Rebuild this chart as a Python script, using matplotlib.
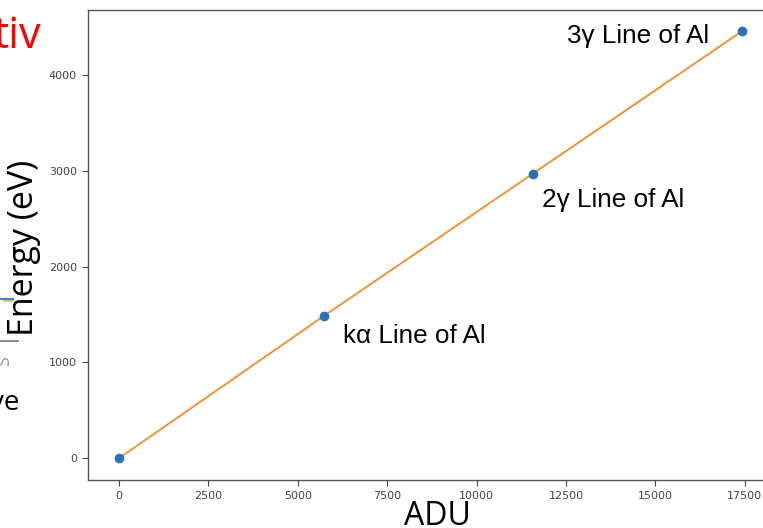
import matplotlib
matplotlib.use("Agg")
import matplotlib.pyplot as plt
from matplotlib.lines import Line2D

# Calibration points: detector reading (ADU) vs photon energy (eV)
adu = [0, 5733, 11577, 17422]
energy = [0, 1487, 2973, 4460]
line_labels = ["", "k\u03b1 Line of Al", "2\u03b3 Line of Al", "3\u03b3 Line of Al"]
x_ticks = [0, 2500, 5000, 7500, 10000, 12500, 15000, 17500]
y_ticks = [0, 1000, 2000, 3000, 4000]

W, H = 763, 528
fig = plt.figure(figsize=(W / 100, H / 100), dpi=100)
fig.patch.set_facecolor("white")


def px(x, y):
    """Pixel position (from top-left) to figure fraction."""
    return x / W, 1 - y / H


# Axes panel; its right edge runs past the slide crop
ax = fig.add_axes([88 / W, (H - 479.5) / H, 685 / W, 469.5 / H])
ax.plot(adu, energy, color="#f68a2a", lw=1.3, zorder=2)
ax.plot(adu, energy, "o", color="#2a72b5", ms=6, zorder=3)
ax.set_xticks(x_ticks)
ax.set_yticks(y_ticks)
ax.tick_params(labelsize=8, labelcolor="#444444", color="#444444", length=4.5)
for s in ax.spines.values():
    s.set_color("#555555")
    s.set_linewidth(1.0)

# Slide annotations next to each calibration line
label_pos = [None, (343, 343), (542, 207), (567, 43)]
for lab, pos in zip(line_labels, label_pos):
    if pos is None:
        continue
    fx, fy = px(*pos)
    fig.text(fx, fy, lab, family="Liberation Sans", fontsize=18.8,
             color="black", ha="left", va="baseline")

# Large slide axis captions
fx, fy = px(24, 248)
fig.text(fx, fy, "Energy (eV)", family="Open Sans", fontsize=24.5,
         rotation=90, ha="center", va="center", color="black")
fx, fy = px(437, 525)
fig.text(fx, fy, "ADU", family="Open Sans", fontsize=23,
         ha="center", va="baseline", color="black")

# Neighbouring slide content at the left edge
fx, fy = px(41, 48)
fig.text(fx, fy, "tiv", family="Open Sans", fontsize=31, color="#ff0000",
         ha="right", va="baseline")
fx, fy = px(19, 410)
fig.text(fx, fy, "ve", family="Open Sans", fontsize=20, color="black",
         ha="right", va="baseline")
fig.add_artist(Line2D([0, 13 / W], [1 - 299 / H] * 2, color="#4a7fc0", lw=1.6))
fig.add_artist(Line2D([4 / W, 13 / W], [1 - 301 / H] * 2, color="#c8c860", lw=1.2))
fig.add_artist(Line2D([0, 18 / W], [1 - 341 / H] * 2, color="#777777", lw=1.2))
fx, fy = px(4, 361)
fig.text(fx, fy, "S", family="Open Sans", fontsize=13, color="#999999",
         rotation=90, ha="center", va="center")

fig.savefig("out.png", dpi=100, facecolor="white")
